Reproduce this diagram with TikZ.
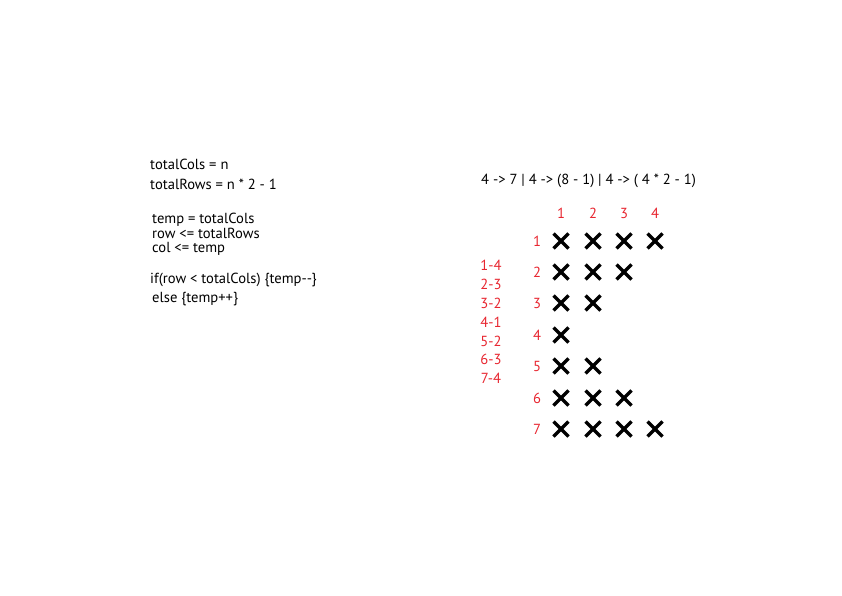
\documentclass[tikz,border=0pt]{standalone}
\usepackage{fontspec}
\setmainfont{PT Sans}
\definecolor{numred}{RGB}{232,38,48}
\begin{document}
\begin{tikzpicture}[x=1pt,y=-1pt,
  code/.style={anchor=west,inner sep=0pt,text height=9.5pt,text depth=2.5pt,font=\fontsize{14.6}{16}\selectfont},
  rednum/.style={text=numred,inner sep=0pt,font=\fontsize{14.6}{16}\selectfont},
  crossmark/.style={line width=3.5pt,line cap=butt}]
\useasboundingbox[fill=white] (0,0) rectangle (842,595);
% left block
\node[code] (l1) at (150,166) {totalCols = n};
\node[code] (l2) at (150,186) {totalRows = n * 2 - 1};
\node[code] (l3) at (152,220) {temp = totalCols};
\node[code] (l4) at (152,234.5) {row <= totalRows};
\node[code] (l5) at (152,249) {col <= temp};
\node[code] (l6) at (150,280) {if(row < totalCols) \{temp-{}-\}};
\node[code] (l7) at (152,299) {else \{temp++\}};
% header
\node[code] (hdr) at (481,181) {4 -> 7 | 4 -> (8 - 1) | 4 -> ( 4 * 2 - 1)};
% column numbers
\foreach \c/\x in {1/561,2/593,3/624,4/655}
  \node[rednum] (col\c) at (\x,213) {\c};
% row numbers and crosses
\foreach \r/\y/\n in {1/241/4,2/272/3,3/303/2,4/335/1,5/366/2,6/398/3,7/429/4} {
  \node[rednum] (row\r) at (537,\y) {\r};
  \foreach \c/\x in {1/561,2/593,3/624,4/655} {
    \ifnum\c>\n\else
      \coordinate (x\r\c) at (\x,\y);
      \draw[crossmark] ([shift={(-7.5,-7.5)}]x\r\c) -- ([shift={(7.5,7.5)}]x\r\c);
      \draw[crossmark] ([shift={(-7.5,7.5)}]x\r\c) -- ([shift={(7.5,-7.5)}]x\r\c);
    \fi
  }
}
% left red list
\foreach \t/\y [count=\i] in {1-4/265,2-3/284,3-2/303,4-1/322,5-2/341,6-3/359,7-4/378}
  \node[rednum] (pair\i) at (491,\y) {\t};
\end{tikzpicture}
\end{document}
